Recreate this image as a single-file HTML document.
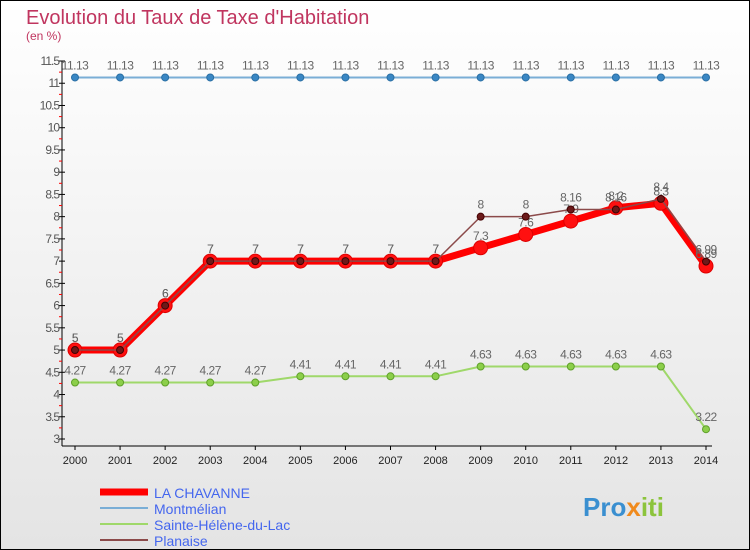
<!DOCTYPE html>
<html><head><meta charset="utf-8"><style>
body{margin:0}
#c{width:750px;height:550px;position:relative;overflow:hidden;font-family:"Liberation Sans",sans-serif}
</style></head><body>
<div id="c">
<svg id="s" width="750" height="550" xmlns="http://www.w3.org/2000/svg">
<defs><linearGradient id="bg" x1="0" y1="0" x2="0" y2="1"><stop offset="0" stop-color="#ffffff"/><stop offset="1" stop-color="#e4e4e4"/></linearGradient></defs>
<rect x="0.5" y="0.5" width="749" height="549" fill="url(#bg)" stroke="#000"/>
<text x="26" y="24" font-size="20" fill="#c0355f">Evolution du Taux de Taxe d'Habitation</text>
<text x="26" y="40" font-size="12" fill="#c0355f">(en %)</text>
<g id="axes"></g><g id="series"></g>
<g>
<line x1="100" y1="492" x2="148" y2="492" stroke="#ff0000" stroke-width="7"/>
<text x="154" y="498" font-size="14" fill="#4466ee">LA CHAVANNE</text>
<line x1="100" y1="508" x2="148" y2="508" stroke="#7aaed6" stroke-width="2"/>
<text x="154" y="514" font-size="14" fill="#4466ee">Montmélian</text>
<line x1="100" y1="524" x2="148" y2="524" stroke="#9fd86a" stroke-width="2"/>
<text x="154" y="530" font-size="14" fill="#4466ee">Sainte-Hélène-du-Lac</text>
<line x1="100" y1="540" x2="148" y2="540" stroke="#8b4a4a" stroke-width="2"/>
<text x="154" y="546" font-size="14" fill="#4466ee">Planaise</text>
</g>
<text x="583" y="516" font-size="26" font-weight="bold" fill="#3a8fd0">Pro<tspan fill="#f08a1c">x</tspan><tspan fill="#8cc43c">iti</tspan></text>
</svg>
</div>
<script>
const years=[2000,2001,2002,2003,2004,2005,2006,2007,2008,2009,2010,2011,2012,2013,2014];
const laChavanne=[5,5,6,7,7,7,7,7,7,7.3,7.6,7.9,8.2,8.3,6.89];
const montmelian=[11.13,11.13,11.13,11.13,11.13,11.13,11.13,11.13,11.13,11.13,11.13,11.13,11.13,11.13,11.13];
const sainteHelene=[4.27,4.27,4.27,4.27,4.27,4.41,4.41,4.41,4.41,4.63,4.63,4.63,4.63,4.63,3.22];
const planaise=[5,5,6,7,7,7,7,7,7,8,8,8.16,8.16,8.4,6.99];
const yTicks=[3,3.5,4,4.5,5,5.5,6,6.5,7,7.5,8,8.5,9,9.5,10,10.5,11,11.5];
const NS="http://www.w3.org/2000/svg";
const X=i=>75+i*(706-75)/14, Y=v=>439-(v-3)*44.47;
function mk(t,a,p){const e=document.createElementNS(NS,t);for(const k in a)e.setAttribute(k,a[k]);p.appendChild(e);return e;}
const ax=document.getElementById('axes'), sg=document.getElementById('series');
let l=mk('line',{x1:62,y1:Y(11.5),x2:62,y2:446,stroke:'#000'},ax);


l=mk('line',{x1:62,y1:446,x2:712,y2:446,stroke:'#000'},ax);


yTicks.forEach((v,i)=>{
 mk('line',{x1:59,y1:Y(v),x2:65,y2:Y(v),stroke:'#000'},ax);
 if(i<yTicks.length-1)mk('line',{x1:59,y1:Y(v+0.25),x2:62,y2:Y(v+0.25),stroke:'#f00'},ax);
 const t=mk('text',{x:59,y:Y(v)+4,'font-size':12,fill:'#555','text-anchor':'end','letter-spacing':'-1'},ax);
 t.textContent=String(v);
 
 
});
years.forEach((y,i)=>{
 mk('line',{x1:X(i),y1:446,x2:X(i),y2:450,stroke:'#000'},ax);
 const t=mk('text',{x:X(i),y:464,'font-size':11,fill:'#222','text-anchor':'middle'},ax);
 t.textContent=y;
 
 
});
function series(vals,name,color,w,r,dot,dotStroke,lc){
 const g=mk('g',{},sg);
 
 
 const p=mk('polyline',{points:vals.map((v,i)=>X(i)+','+Y(v)).join(' '),fill:'none',stroke:color,'stroke-width':w,'stroke-linejoin':'round'},g);
 
 
 vals.forEach((v,i)=>{
  const c=mk('circle',{cx:X(i),cy:Y(v),r:r,fill:dot,stroke:dotStroke,'stroke-width':1},g);
  
  
  const t=mk('text',{x:X(i),y:Y(v)-8,'font-size':12,fill:lc,'text-anchor':'middle','letter-spacing':'-0.5'},g);
  t.textContent=String(v);
  
  
 });
}
series(montmelian,'montmelian','#7aaed6',2,3.5,'#3a87c4','#2a6fa4','#666');
series(sainteHelene,'sainte-helene','#9fd86a',2,3.5,'#8ccf4a','#5fa02a','#666');
series(laChavanne,'la-chavanne','#ff0000',7,7,'#ff1010','#dd0000','#666');
series(planaise,'planaise','#8b4a4a',1.5,3.5,'#6b1a1a','#400','#666');
</script>
</body></html>
